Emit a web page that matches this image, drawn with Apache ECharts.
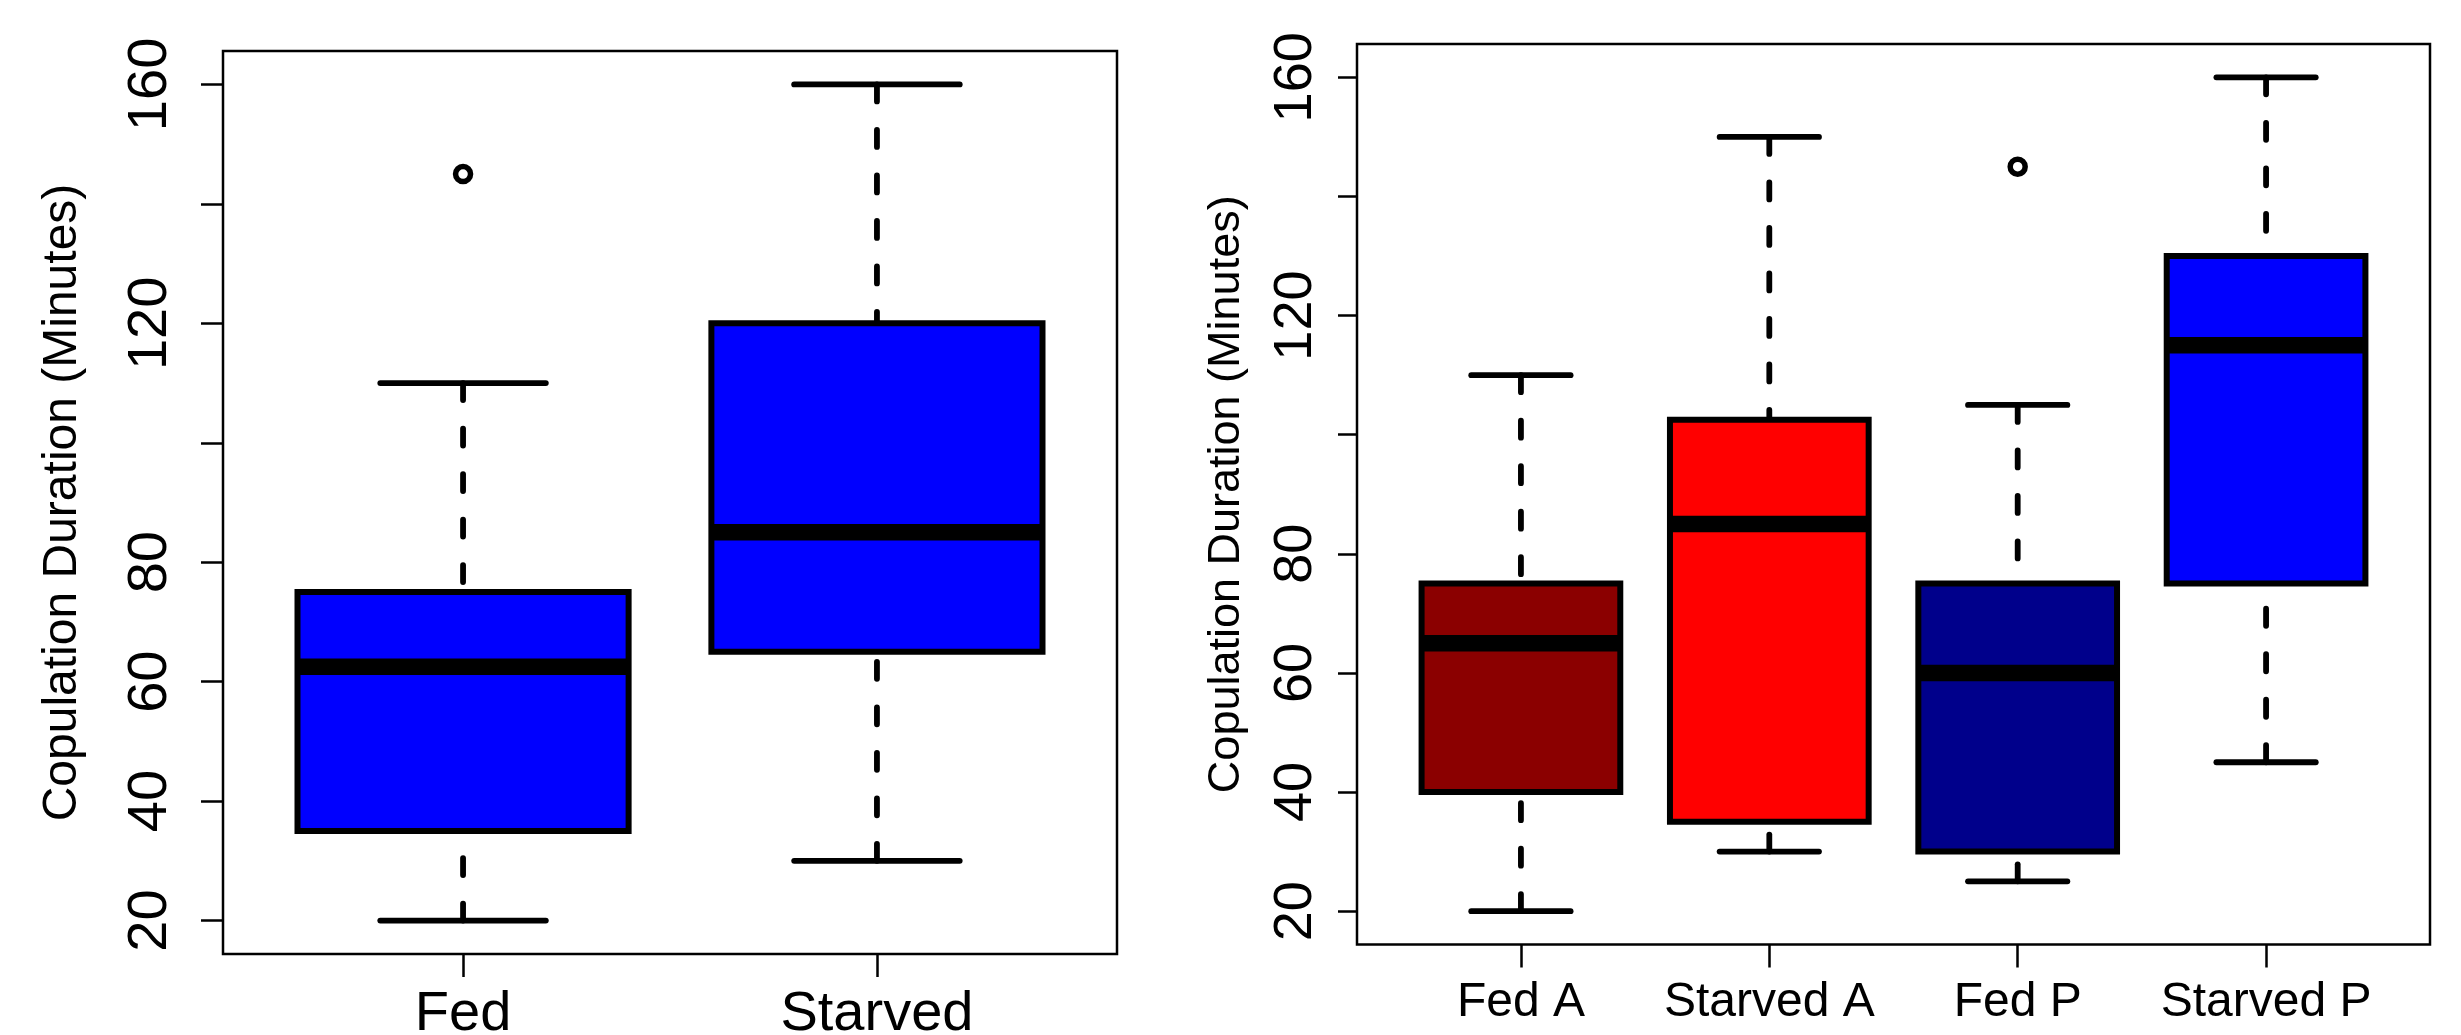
<!DOCTYPE html>
<html>
<head>
<meta charset="utf-8">
<script src="https://cdn.jsdelivr.net/npm/echarts@6/dist/echarts.min.js"></script>
<style>
html,body{margin:0;padding:0;background:#fff;}
#chart{width:2461px;height:1035px;}
</style>
</head>
<body>
<div id="chart"></div>
<script>
// ---------- Data ----------
// Left panel
const leftCategories = ['Fed', 'Starved'];
const leftLowerWhisker = [20, 30];
const leftQ1 = [35, 65];
const leftMedian = [62.5, 85];
const leftQ3 = [75, 120];
const leftUpperWhisker = [110, 160];
const leftOutliers = [[1, 145]];          // [category position, value]
const leftColors = ['#0000FF', '#0000FF'];

// Right panel
const rightCategories = ['Fed A', 'Starved A', 'Fed P', 'Starved P'];
const rightLowerWhisker = [20, 30, 25, 45];
const rightQ1 = [40, 35, 30, 75];
const rightMedian = [65, 85, 60, 115];
const rightQ3 = [75, 102.5, 75, 130];
const rightUpperWhisker = [110, 150, 105, 160];
const rightOutliers = [[3, 145]];
const rightColors = ['#8B0000', '#FF0000', '#00008B', '#0000FF'];

// Axis tick values (ticks at every 20; labels only where they fit, as in the reference)
const yTickValues = [20, 40, 60, 80, 100, 120, 140, 160];
const yLabelValues = [20, 40, 60, 80, 120, 160];
const yMin = 14.4, yMax = 165.6;
const yTitle = 'Copulation Duration (Minutes)';

// ---------- Build ----------
const FONT = "'Liberation Sans', Arial, Helvetica, sans-serif";

function buildData(lo, q1, med, q3, hi) {
  return lo.map((v, i) => [i + 1, lo[i], q1[i], med[i], q3[i], hi[i]]);
}

function makeRender(colors) {
  return function (params, api) {
    const x = api.value(0);
    const lo = api.value(1), q1 = api.value(2), med = api.value(3), q3 = api.value(4), hi = api.value(5);
    const boxHalf = 0.4, capHalf = 0.2;
    const tl = api.coord([x - boxHalf, q3]);
    const br = api.coord([x + boxHalf, q1]);
    const cx = api.coord([x, q3])[0];
    const yHi = api.coord([x, hi])[1];
    const yLo = api.coord([x, lo])[1];
    const yQ1 = br[1], yQ3 = tl[1];
    const yMed = api.coord([x, med])[1];
    const capL = api.coord([x - capHalf, hi])[0];
    const capR = api.coord([x + capHalf, hi])[0];
    const dashStyle = { stroke: '#000', lineWidth: 5.8, lineDash: [17, 28.5], lineCap: 'round', fill: null };
    const solid = { stroke: '#000', lineWidth: 5.8, lineCap: 'round', fill: null };
    return {
      type: 'group',
      children: [
        { type: 'line', shape: { x1: cx, y1: yHi, x2: cx, y2: yQ3 }, style: dashStyle },
        { type: 'line', shape: { x1: cx, y1: yLo, x2: cx, y2: yQ1 }, style: dashStyle },
        { type: 'line', shape: { x1: capL, y1: yHi, x2: capR, y2: yHi }, style: solid },
        { type: 'line', shape: { x1: capL, y1: yLo, x2: capR, y2: yLo }, style: solid },
        { type: 'rect', shape: { x: tl[0], y: tl[1], width: br[0] - tl[0], height: br[1] - tl[1] },
          style: { fill: colors[params.dataIndex], stroke: '#000', lineWidth: 6, lineJoin: 'miter' } },
        { type: 'line', shape: { x1: tl[0], y1: yMed, x2: br[0], y2: yMed },
          style: { stroke: '#000', lineWidth: 16.5, lineCap: 'butt' } }
      ]
    };
  };
}

function yAxisCfg(gridIndex, tickLen, labelSize, labelMargin, nameSize, nameGap) {
  return {
    type: 'value', gridIndex: gridIndex, min: yMin, max: yMax,
    splitLine: { show: false },
    axisLine: { show: false },
    axisTick: { show: true, customValues: yTickValues, length: tickLen, lineStyle: { color: '#000', width: 2.5 } },
    axisLabel: { show: true, customValues: yLabelValues, rotate: 90, fontSize: labelSize, color: '#000',
                 fontFamily: FONT, margin: labelMargin },
    name: yTitle, nameLocation: 'middle', nameGap: nameGap,
    nameTextStyle: { fontSize: nameSize, color: '#000', fontFamily: FONT }
  };
}

function xAxisCfg(gridIndex, cats, min, max, labelSize, labelMargin) {
  const vals = cats.map((c, i) => i + 1);
  return {
    type: 'value', gridIndex: gridIndex, min: min, max: max,
    splitLine: { show: false },
    axisLine: { show: false },
    axisTick: { show: true, customValues: vals, length: 23, lineStyle: { color: '#000', width: 2.5 } },
    axisLabel: { show: true, customValues: vals, fontSize: labelSize, color: '#000', fontFamily: FONT,
                 margin: labelMargin, formatter: v => cats[Math.round(v) - 1] || '' }
  };
}

const option = {
  animation: false,
  backgroundColor: '#fff',
  grid: [
    { left: 223, top: 51, width: 894, height: 903, show: true, borderColor: '#000', borderWidth: 2.5,
      backgroundColor: 'transparent', containLabel: false, outerBoundsMode: 'none' },
    { left: 1357, top: 44, width: 1073, height: 900.5, show: true, borderColor: '#000', borderWidth: 2.5,
      backgroundColor: 'transparent', containLabel: false, outerBoundsMode: 'none' }
  ],
  xAxis: [
    xAxisCfg(0, leftCategories, 0.42, 2.58, 56, 33),
    xAxisCfg(1, rightCategories, 0.34, 4.66, 48, 34)
  ],
  yAxis: [
    yAxisCfg(0, 22, 56, 44, 48, 136),
    yAxisCfg(1, 19, 54, 34, 45, 108)
  ],
  series: [
    { type: 'custom', xAxisIndex: 0, yAxisIndex: 0, renderItem: makeRender(leftColors),
      data: buildData(leftLowerWhisker, leftQ1, leftMedian, leftQ3, leftUpperWhisker), clip: false },
    { type: 'scatter', xAxisIndex: 0, yAxisIndex: 0, data: leftOutliers, symbol: 'circle', symbolSize: 15,
      itemStyle: { color: 'rgba(0,0,0,0)', borderColor: '#000', borderWidth: 5.5, opacity: 1 } },
    { type: 'custom', xAxisIndex: 1, yAxisIndex: 1, renderItem: makeRender(rightColors),
      data: buildData(rightLowerWhisker, rightQ1, rightMedian, rightQ3, rightUpperWhisker), clip: false },
    { type: 'scatter', xAxisIndex: 1, yAxisIndex: 1, data: rightOutliers, symbol: 'circle', symbolSize: 15,
      itemStyle: { color: 'rgba(0,0,0,0)', borderColor: '#000', borderWidth: 5.5, opacity: 1 } }
  ]
};

const chart = echarts.init(document.getElementById('chart'), null, { renderer: 'canvas' });
chart.setOption(option);
</script>
</body>
</html>
